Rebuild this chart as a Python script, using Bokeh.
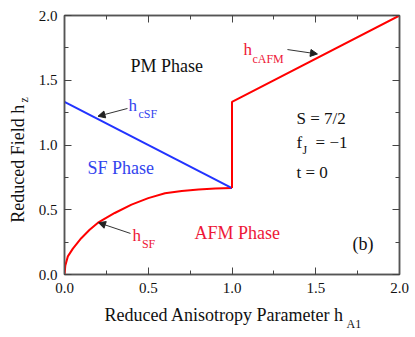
import math
from bokeh.plotting import figure
from bokeh.models import (Range1d, Label, Arrow, NormalHead, LinearAxis,
                          SingleIntervalTicker, CustomJSTickFormatter)
from bokeh.embed import file_html
from bokeh.resources import INLINE

# ---- data ----
# spin-flop field h_SF vs anisotropy h_A1 (red curve)
hA_sf = [0.0, 0.005, 0.02, 0.05, 0.1, 0.15, 0.2, 0.3, 0.4, 0.5, 0.6, 0.7, 0.8, 0.9, 1.0]
h_sf = [0.0, 0.07, 0.14, 0.20, 0.28, 0.345, 0.40, 0.475, 0.54, 0.59, 0.627, 0.645, 0.657, 0.664, 0.667]
# critical field of SF phase (blue)
hA_csf = [0.0, 1.0]
h_csf = [1.333, 0.667]
# critical field of AFM phase (red, with jump at h_A1 = 1)
hA_cafm = [1.0, 1.0, 2.0]
h_cafm = [0.667, 1.333, 2.0]

x_ticks_interval = 0.5
y_ticks_interval = 0.5

# arrows: (x_start, y_start, x_end, y_end)
arrow_csf = (0.376, 1.282, 0.20, 1.222)
arrow_sf = (0.394, 0.317, 0.203, 0.400)
arrow_cafm = (1.331, 1.737, 1.51, 1.703)

RED_LINE = "#ff0000"
RED_TXT = "#ee1838"
BLUE_LINE = "#2233ff"
BLUE_TXT = "#3344ee"
FONT = "Liberation Serif"
FRAME = "#555555"

p = figure(width=413, height=337, x_range=Range1d(0, 2), y_range=Range1d(0, 2),
           output_backend="svg", toolbar_location=None,
           min_border_left=64, min_border_right=14, min_border_top=15, min_border_bottom=63)
p.grid.visible = False
p.background_fill_color = "white"
p.border_fill_color = "white"
p.outline_line_color = FRAME
p.outline_line_width = 1.5

def style_axis(ax, show_labels=True):
    ax.axis_line_color = FRAME
    ax.axis_line_width = 1.5
    ax.major_tick_in = 7
    ax.major_tick_out = 0
    ax.minor_tick_in = 4
    ax.minor_tick_out = 0
    ax.major_tick_line_color = "#444444"
    ax.minor_tick_line_color = "#444444"
    ax.major_tick_line_width = 1
    ax.minor_tick_line_width = 1
    ax.major_label_text_font = FONT
    ax.major_label_text_font_size = "15px"
    ax.major_label_text_color = "#111111"
    if not show_labels:
        ax.formatter = CustomJSTickFormatter(code="return ''")
        ax.major_label_standoff = 0

p.xaxis.ticker = SingleIntervalTicker(interval=x_ticks_interval, num_minor_ticks=2)
p.yaxis.ticker = SingleIntervalTicker(interval=y_ticks_interval, num_minor_ticks=2)
style_axis(p.xaxis[0])
style_axis(p.yaxis[0])
p.xaxis.major_label_standoff = 8
p.yaxis.major_label_standoff = 7
p.xaxis.formatter = CustomJSTickFormatter(code="return tick.toFixed(1)")
p.yaxis.formatter = CustomJSTickFormatter(code="return tick.toFixed(1)")

top = LinearAxis(ticker=SingleIntervalTicker(interval=x_ticks_interval, num_minor_ticks=2))
right = LinearAxis(ticker=SingleIntervalTicker(interval=y_ticks_interval, num_minor_ticks=2))
style_axis(top, False)
style_axis(right, False)
p.add_layout(top, "above")
p.add_layout(right, "right")

# ---- lines ----
p.line(hA_sf, h_sf, line_color=RED_LINE, line_width=2)
p.line(hA_csf, h_csf, line_color=BLUE_LINE, line_width=2)
p.line(hA_cafm, h_cafm, line_color=RED_LINE, line_width=2)

# ---- arrows ----
for (xs, ys, xe, ye) in [arrow_csf, arrow_sf, arrow_cafm]:
    p.add_layout(Arrow(end=NormalHead(size=7, fill_color="#222222", line_color="#222222", line_width=1),
                       x_start=xs, y_start=ys, x_end=xe, y_end=ye,
                       line_color="#333333", line_width=1))

def txt(x, y, s, size=18, color="#111111", angle=0.0, place="center"):
    rotated = angle != 0.0
    lab = Label(x=x, y=y, text=s, text_font=FONT, text_font_size=f"{size}px",
                text_color=color, text_baseline="alphabetic", text_align="left",
                angle=angle,
                x_offset=-5 if rotated else 0,
                y_offset=0 if rotated else 5)
    p.add_layout(lab, place)

# phase labels
txt(0.394, 1.568, "PM Phase")
txt(0.137, 0.780, "SF Phase", color=BLUE_TXT)
txt(0.776, 0.278, "AFM Phase", color=RED_TXT)

# curve labels
txt(0.382, 1.266, "h", 17, BLUE_TXT)
txt(0.442, 1.197, "cSF", 12, BLUE_TXT)
txt(0.406, 0.263, "h", 17, RED_TXT)
txt(0.462, 0.200, "SF", 12, RED_TXT)
txt(1.069, 1.699, "h", 17, RED_TXT)
txt(1.122, 1.629, "cAFM", 12, RED_TXT)

# parameters
txt(1.385, 1.166, "S = 7/2", 17)
txt(1.385, 0.981, "f", 17)
txt(1.421, 0.924, "J", 12)
txt(1.499, 0.981, "= \u22121", 17)
txt(1.385, 0.749, "t = 0", 17)
txt(1.719, 0.197, "(b)", 18)

# axis titles (placed in side panels so they are not clipped to the frame)
txt(0.239, -0.355, "Reduced Anisotropy Parameter h", 18, place="below")
txt(1.684, -0.417, "A1", 12, place="below")
txt(-0.245, 0.40, "Reduced Field h", 18, angle=math.pi / 2, place="left")
txt(-0.209, 1.328, "z", 12, angle=math.pi / 2, place="left")

open("out.html", "w").write(file_html(p, INLINE))
